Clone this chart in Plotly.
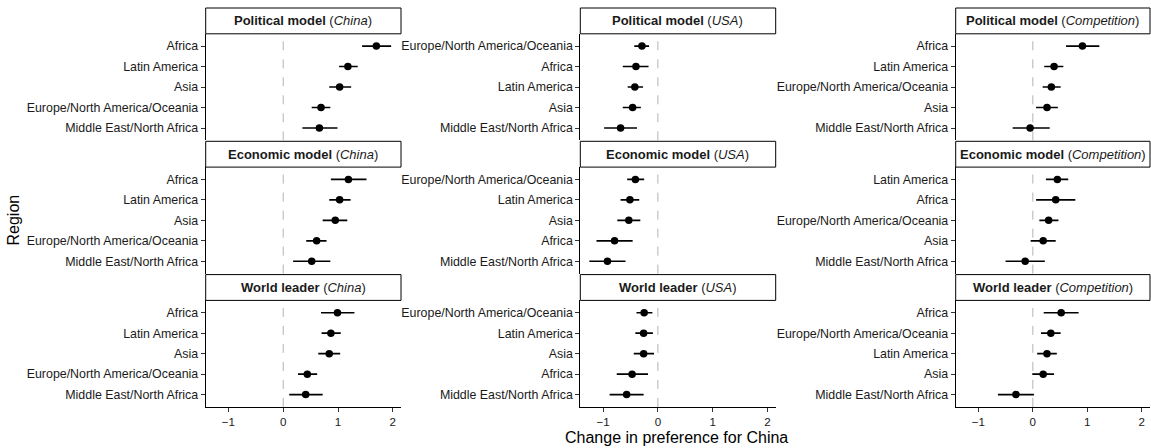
import plotly.graph_objects as go

# ---- estimates and 95% intervals, one panel per outcome x target ----
# Regions are listed top to bottom as they appear in each panel.

pol_china_regions = ["Africa", "Latin America", "Asia", "Europe/North America/Oceania", "Middle East/North Africa"]
pol_china_est = [1.70, 1.18, 1.03, 0.69, 0.66]
pol_china_lo = [1.44, 1.02, 0.84, 0.52, 0.35]
pol_china_hi = [1.97, 1.36, 1.24, 0.86, 0.99]

pol_usa_regions = ["Europe/North America/Oceania", "Africa", "Latin America", "Asia", "Middle East/North Africa"]
pol_usa_est = [-0.29, -0.40, -0.42, -0.46, -0.68]
pol_usa_lo = [-0.43, -0.64, -0.55, -0.64, -0.98]
pol_usa_hi = [-0.16, -0.17, -0.27, -0.31, -0.38]

pol_comp_regions = ["Africa", "Latin America", "Europe/North America/Oceania", "Asia", "Middle East/North Africa"]
pol_comp_est = [0.91, 0.39, 0.34, 0.26, -0.05]
pol_comp_lo = [0.61, 0.21, 0.18, 0.06, -0.37]
pol_comp_hi = [1.22, 0.56, 0.51, 0.46, 0.31]

eco_china_regions = ["Africa", "Latin America", "Asia", "Europe/North America/Oceania", "Middle East/North Africa"]
eco_china_est = [1.19, 1.03, 0.95, 0.61, 0.52]
eco_china_lo = [0.87, 0.84, 0.72, 0.42, 0.18]
eco_china_hi = [1.52, 1.23, 1.17, 0.79, 0.86]

eco_usa_regions = ["Europe/North America/Oceania", "Latin America", "Asia", "Africa", "Middle East/North Africa"]
eco_usa_est = [-0.41, -0.51, -0.53, -0.79, -0.92]
eco_usa_lo = [-0.56, -0.68, -0.74, -1.12, -1.25]
eco_usa_hi = [-0.25, -0.34, -0.32, -0.46, -0.59]

eco_comp_regions = ["Latin America", "Africa", "Europe/North America/Oceania", "Asia", "Middle East/North Africa"]
eco_comp_est = [0.45, 0.42, 0.29, 0.19, -0.14]
eco_comp_lo = [0.24, 0.06, 0.12, -0.04, -0.50]
eco_comp_hi = [0.65, 0.78, 0.47, 0.42, 0.22]

wl_china_regions = ["Africa", "Latin America", "Asia", "Europe/North America/Oceania", "Middle East/North Africa"]
wl_china_est = [0.99, 0.87, 0.84, 0.44, 0.41]
wl_china_lo = [0.69, 0.70, 0.64, 0.27, 0.11]
wl_china_hi = [1.30, 1.05, 1.04, 0.62, 0.72]

wl_usa_regions = ["Europe/North America/Oceania", "Latin America", "Asia", "Africa", "Middle East/North Africa"]
wl_usa_est = [-0.25, -0.26, -0.26, -0.47, -0.57]
wl_usa_lo = [-0.39, -0.41, -0.44, -0.75, -0.88]
wl_usa_hi = [-0.10, -0.09, -0.07, -0.18, -0.26]

wl_comp_regions = ["Africa", "Europe/North America/Oceania", "Latin America", "Asia", "Middle East/North Africa"]
wl_comp_est = [0.52, 0.33, 0.26, 0.19, -0.31]
wl_comp_lo = [0.20, 0.15, 0.08, -0.01, -0.64]
wl_comp_hi = [0.84, 0.51, 0.44, 0.39, 0.02]

outcomes = ["Political model", "Economic model", "World leader"]
targets = ["China", "USA", "Competition"]
x_ticks = [-1, 0, 1, 2]

panels = [
    [(pol_china_regions, pol_china_est, pol_china_lo, pol_china_hi),
     (pol_usa_regions, pol_usa_est, pol_usa_lo, pol_usa_hi),
     (pol_comp_regions, pol_comp_est, pol_comp_lo, pol_comp_hi)],
    [(eco_china_regions, eco_china_est, eco_china_lo, eco_china_hi),
     (eco_usa_regions, eco_usa_est, eco_usa_lo, eco_usa_hi),
     (eco_comp_regions, eco_comp_est, eco_comp_lo, eco_comp_hi)],
    [(wl_china_regions, wl_china_est, wl_china_lo, wl_china_hi),
     (wl_usa_regions, wl_usa_est, wl_usa_lo, wl_usa_hi),
     (wl_comp_regions, wl_comp_est, wl_comp_lo, wl_comp_hi)],
]

# ---- layout geometry (pixels) ----
W, H = 1151, 448
col_px = [(205.7, 401.0), (580.3, 775.7), (955.7, 1150.0)]
row_strip_top = [8.0, 141.3, 274.6]
strip_h = 25.8
panel_h = 106.5
x_range = [-1.415, 2.15]

FONT = "Liberation Sans, Arial, Helvetica, sans-serif"
TEXT = "#1a1a1a"
TICK_SIZE = 12.4
XTICK_SIZE = 11.6
STRIP_SIZE = 13
TITLE_SIZE = 16


def px_x(p):
    return p / W


def px_y(p):
    return 1 - p / H


fig = go.Figure()
shapes = []
annotations = []
layout_axes = {}

k = 0
for r in range(3):
    strip_top = row_strip_top[r]
    strip_bot = strip_top + strip_h
    panel_bot = strip_bot + panel_h
    for c in range(3):
        k += 1
        regions, est, lo, hi = panels[r][c]
        xa = "x" if k == 1 else f"x{k}"
        ya = "y" if k == 1 else f"y{k}"
        xkey = "xaxis" if k == 1 else f"xaxis{k}"
        ykey = "yaxis" if k == 1 else f"yaxis{k}"
        x0p, x1p = col_px[c]

        bottom_row = (r == 2)
        layout_axes[xkey] = dict(
            domain=[px_x(x0p), px_x(x1p)],
            anchor=ya,
            range=x_range,
            tickvals=x_ticks,
            showticklabels=bottom_row,
            showline=bottom_row,
            linecolor="black",
            linewidth=1,
            ticks="outside" if bottom_row else "",
            ticklen=4,
            tickcolor="#333333",
            tickfont=dict(family=FONT, size=XTICK_SIZE, color=TEXT),
            showgrid=False,
            zeroline=False,
        )
        layout_axes[ykey] = dict(
            domain=[px_y(panel_bot), px_y(strip_bot)],
            anchor=xa,
            type="category",
            categoryorder="array",
            categoryarray=regions,
            range=[len(regions) - 0.4, -0.6],
            showline=True,
            linecolor="black",
            linewidth=1,
            ticks="outside",
            ticklen=4,
            tickcolor="#333333",
            tickfont=dict(family=FONT, size=TICK_SIZE, color=TEXT),
            showgrid=False,
            zeroline=False,
        )

        # zero reference line
        shapes.append(dict(
            type="line", xref=xa, yref=f"{ya} domain",
            x0=0, x1=0, y0=0, y1=1,
            line=dict(color="#b3b3b3", width=1, dash="dash"),
            layer="below",
        ))

        fig.add_trace(go.Scatter(
            x=est, y=regions, xaxis=xa, yaxis=ya,
            mode="markers",
            marker=dict(color="black", size=7.5),
            error_x=dict(
                type="data", symmetric=False,
                array=[h - e for h, e in zip(hi, est)],
                arrayminus=[e - l for e, l in zip(est, lo)],
                width=0, thickness=1.6, color="black",
            ),
            showlegend=False,
            hoverinfo="x+y",
        ))

        # facet strip
        shapes.append(dict(
            type="rect", xref="paper", yref="paper",
            x0=px_x(x0p), x1=px_x(x1p),
            y0=px_y(strip_bot), y1=px_y(strip_top),
            line=dict(color="black", width=1),
            fillcolor="white",
        ))
        annotations.append(dict(
            xref="paper", yref="paper",
            x=px_x((x0p + x1p) / 2), y=px_y((strip_top + strip_bot) / 2),
            text=f"<b>{outcomes[r]}</b> (<i>{targets[c]}</i>)",
            showarrow=False, xanchor="center", yanchor="middle",
            font=dict(family=FONT, size=STRIP_SIZE, color=TEXT),
        ))

annotations.append(dict(
    xref="paper", yref="paper", x=px_x(676.5), y=0,
    text="Change in preference for China", showarrow=False,
    xanchor="center", yanchor="bottom",
    font=dict(family=FONT, size=TITLE_SIZE, color="black"),
))
annotations.append(dict(
    xref="paper", yref="paper", x=px_x(12.5), y=px_y(220),
    text="Region", showarrow=False, textangle=-90,
    xanchor="center", yanchor="middle",
    font=dict(family=FONT, size=TITLE_SIZE, color="black"),
))

fig.update_layout(
    width=W, height=H,
    margin=dict(l=0, r=0, t=0, b=0),
    paper_bgcolor="white", plot_bgcolor="white",
    shapes=shapes, annotations=annotations,
    **layout_axes,
)

fig.write_html("out.html")
